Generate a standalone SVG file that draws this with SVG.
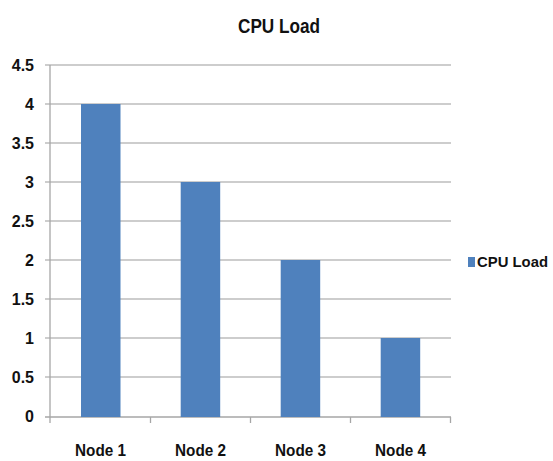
<svg xmlns="http://www.w3.org/2000/svg" width="553" height="461" viewBox="0 0 553 461">
<style>
.t{font-family:"Liberation Sans",Arial,sans-serif;font-weight:bold;fill:#111;}
.grid{stroke:#BDBDBD;stroke-width:1.3;}
.axis{stroke:#A6A6A6;stroke-width:1.3;fill:none;}
.bar{fill:#4F81BD;}
</style>
<rect width="553" height="461" fill="#fff"/>
<text class="t" x="279" y="33" font-size="20" text-anchor="middle" textLength="82" lengthAdjust="spacingAndGlyphs">CPU Load</text>
<g id="grid">
<line class="grid" x1="45" y1="65" x2="451" y2="65"/>
<line class="grid" x1="45" y1="104" x2="451" y2="104"/>
<line class="grid" x1="45" y1="143" x2="451" y2="143"/>
<line class="grid" x1="45" y1="182" x2="451" y2="182"/>
<line class="grid" x1="45" y1="221" x2="451" y2="221"/>
<line class="grid" x1="45" y1="260" x2="451" y2="260"/>
<line class="grid" x1="45" y1="299" x2="451" y2="299"/>
<line class="grid" x1="45" y1="338" x2="451" y2="338"/>
<line class="grid" x1="45" y1="377" x2="451" y2="377"/>
</g>
<g id="axes">
<line class="axis" x1="50" y1="65" x2="50" y2="417"/>
<line class="axis" x1="45" y1="417" x2="451" y2="417"/>
<line class="axis" x1="50" y1="417" x2="50" y2="423"/>
<line class="axis" x1="150.5" y1="417" x2="150.5" y2="423"/>
<line class="axis" x1="250.5" y1="417" x2="250.5" y2="423"/>
<line class="axis" x1="350.5" y1="417" x2="350.5" y2="423"/>
<line class="axis" x1="450.5" y1="417" x2="450.5" y2="423"/>
</g>
<g id="ylabels" font-size="16" text-anchor="end">
<text class="t" x="34" y="71">4.5</text>
<text class="t" x="34" y="110">4</text>
<text class="t" x="34" y="149">3.5</text>
<text class="t" x="34" y="188">3</text>
<text class="t" x="34" y="227">2.5</text>
<text class="t" x="34" y="266">2</text>
<text class="t" x="34" y="305">1.5</text>
<text class="t" x="34" y="344">1</text>
<text class="t" x="34" y="383">0.5</text>
<text class="t" x="34" y="422">0</text>
</g>
<g id="node1"><rect class="bar" x="81" y="104" width="39.5" height="313"/>
<text class="t" x="100.5" y="456" font-size="17" text-anchor="middle" textLength="51" lengthAdjust="spacingAndGlyphs">Node 1</text></g>
<g id="node2"><rect class="bar" x="180.7" y="182" width="39.5" height="235"/>
<text class="t" x="200.5" y="456" font-size="17" text-anchor="middle" textLength="51" lengthAdjust="spacingAndGlyphs">Node 2</text></g>
<g id="node3"><rect class="bar" x="280.7" y="260" width="39.5" height="157"/>
<text class="t" x="300.5" y="456" font-size="17" text-anchor="middle" textLength="51" lengthAdjust="spacingAndGlyphs">Node 3</text></g>
<g id="node4"><rect class="bar" x="380.7" y="338" width="39.5" height="79"/>
<text class="t" x="400.5" y="456" font-size="17" text-anchor="middle" textLength="51" lengthAdjust="spacingAndGlyphs">Node 4</text></g>
<g id="legend">
<rect class="bar" x="468" y="257" width="7" height="10"/>
<text class="t" x="477" y="267" font-size="15" textLength="71" lengthAdjust="spacingAndGlyphs">CPU Load</text>
</g>
</svg>
